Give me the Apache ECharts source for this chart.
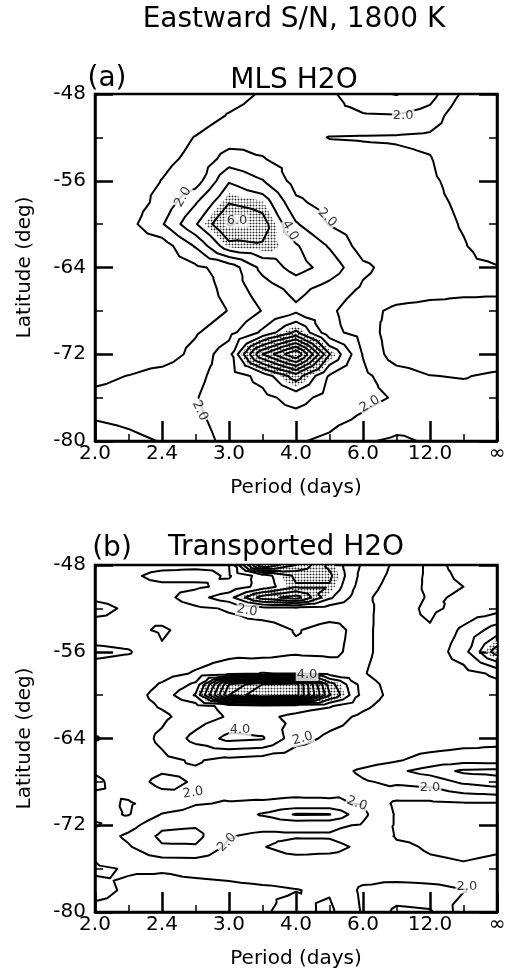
<!DOCTYPE html>
<html>
<head>
<meta charset="utf-8">
<script src="https://cdn.jsdelivr.net/npm/echarts@6/dist/echarts.min.js"></script>
<style>
html, body { margin: 0; padding: 0; background: #fff; }
#chart { width: 511px; height: 972px; }
</style>
</head>
<body>
<div id="chart"></div>
<script>
// x positions are steps of 1/24 cycles/day, from 0.5 cpd (2 days) down to 0 (infinite period)
var periodLabels = ['2.0', '2.4', '3.0', '4.0', '6.0', '12.0', '\u221e'];
var levels = [1, 2, 3, 4, 5, 6, 7, 8, 9, 10, 11, 12, 13, 14, 15, 16, 17, 18, 19, 20];
var stippleLevel = 4.5;

// S/N, one row per latitude, 13 frequency columns
var latMLS = [-48, -50, -52, -54, -56, -58, -60, -62, -64, -66, -68, -70, -72, -74, -76, -78, -80];
var snMLS = [
    [0.3, 0.4, 0.5, 0.6, 0.7, 1.08, 1.4, 1.8, 2.7, 3.05, 2.4, 0.8, 0.5],
    [0.3, 0.4, 0.5, 0.6, 1.05, 1.3, 1.5, 1.7, 1.9, 1.95, 1.6, 0.2, 0.3],
    [0.3, 0.4, 0.6, 1.03, 1.5, 1.7, 1.35, 0.97, 0.93, 0.9, 0.8, 0.3, 0.3],
    [0.3, 0.5, 0.8, 1.2, 2.45, 2.05, 1.6, 1.4, 1.3, 1.2, 1.05, 0.3, 0.3],
    [0.4, 0.6, 1.02, 1.5, 3.9, 3.05, 1.6, 1.4, 1.3, 1.25, 1.15, 0.65, 0.4],
    [0.4, 0.47, 1.3, 2.9, 4.95, 4.6, 2.2, 1.6, 1.4, 1.3, 1.2, 0.85, 0.5],
    [0.5, 0.67, 1.9, 3.9, 6.1, 5.4, 3.1, 1.95, 1.6, 1.4, 1.3, 0.94, 0.6],
    [0.4, 0.4, 0.46, 2.1, 4.7, 4.9, 4.1, 2.9, 1.56, 1.4, 1.3, 1.05, 0.6],
    [0.4, 0.45, 0.5, 0.8, 1.39, 3.3, 4.4, 3.6, 2.2, 1.6, 1.35, 1.15, 1.05],
    [0.4, 0.4, 0.35, 0.29, 1.4, 2.5, 3.3, 2.6, 1.85, 1.5, 1.3, 1.15, 1.1],
    [0.4, 0.4, 0.35, 0.3, 1.05, 2.05, 2.8, 2.2, 1.3, 0.8, 0.7, 0.75, 0.8],
    [0.4, 0.4, 0.45, 0.9, 1.65, 3.2, 5.2, 2.3, 1.6, 0.4, 0.3, 0.35, 0.4],
    [0.4, 0.4, 0.45, 1.3, 2.6, 8.0, 11.0, 5.05, 1.95, 0.45, 0.3, 0.3, 0.4],
    [0.8, 1.02, 1.4, 1.8, 2.4, 3.35, 5.5, 2.9, 2.2, 1.5, 1.02, 0.95, 1.15],
    [1.2, 1.3, 1.5, 1.95, 2.5, 2.7, 3.4, 2.6, 2.3, 1.9, 1.4, 1.3, 1.3],
    [1.02, 1.2, 1.5, 1.85, 2.3, 2.5, 2.6, 2.3, 1.85, 1.4, 1.3, 1.3, 1.3],
    [0.5, 0.75, 1.05, 1.7, 2.2, 2.3, 2.1, 1.8, 1.1, 0.85, 1.1, 1.2, 1.2]
];

// S/N; extra rows where the features are narrow
var latTransported = [-48, -49, -50, -51, -52, -54, -56, -58, -59, -60, -61, -62, -64, -66, -67, -68, -70, -71, -72, -73, -74, -76, -78, -80];
var snTransported = [
    [1.5, 1.6, 1.7, 1.8, 2.0, 9.0, 7.0, 4.8, 2.8, 1.8, 0.8, 1.2, 1.4],
    [1.6, 1.8, 2.3, 2.3, 1.9, 3.5, 5.2, 5.2, 2.6, 1.7, 0.8, 1.1, 1.3],
    [1.7, 1.7, 1.8, 1.8, 2.3, 3.4, 4.9, 4.9, 2.4, 1.6, 0.8, 1.0, 1.3],
    [1.1, 1.2, 1.6, 2.6, 3.6, 6.5, 7.5, 4.2, 2.2, 1.5, 0.9, 1.1, 1.4],
    [0.8, 1.1, 1.4, 1.8, 2.1, 2.6, 2.7, 2.5, 2.3, 1.4, 0.8, 1.3, 1.6],
    [1.3, 1.2, 0.9, 1.3, 1.6, 1.5, 2.06, 1.7, 2.3, 1.3, 1.1, 2.2, 3.5],
    [2.3, 2.1, 1.1, 1.5, 1.7, 1.6, 1.85, 1.8, 2.3, 1.3, 1.3, 2.6, 5.5],
    [1.4, 1.2, 1.6, 2.1, 2.6, 3.05, 2.9, 2.6, 2.1, 1.2, 1.4, 1.6, 2.2],
    [1.2, 1.3, 2.1, 3.2, 10, 12, 12.5, 5.5, 2.5, 1.5, 1.4, 1.5, 1.8],
    [1.1, 1.5, 2.4, 4.1, 11, 13, 12.5, 6.1, 2.6, 1.6, 1.4, 1.5, 1.5],
    [1.2, 1.5, 2.1, 2.6, 3.3, 3.6, 3.4, 3.1, 2.2, 1.5, 1.4, 1.5, 1.5],
    [1.2, 1.5, 1.8, 2.5, 3.1, 3.2, 2.8, 2.4, 1.8, 1.3, 1.5, 1.6, 1.5],
    [2.1, 1.4, 2.2, 3.3, 4.3, 4.1, 2.4, 1.8, 1.6, 1.3, 1.3, 1.5, 1.7],
    [1.2, 1.4, 1.8, 2.1, 1.7, 1.5, 1.3, 1.2, 1.5, 1.9, 2.4, 2.6, 2.5],
    [1.1, 1.5, 1.9, 1.9, 1.7, 1.5, 1.4, 1.5, 2.2, 2.8, 3.4, 4.2, 4.3],
    [0.8, 1.5, 2.3, 1.9, 1.6, 1.5, 1.5, 1.4, 1.9, 2.2, 2.4, 3.2, 3.6],
    [1.3, 0.9, 1.4, 1.95, 2.05, 2.1, 2.2, 2.2, 1.9, 0.8, 0.8, 0.9, 0.9],
    [1.2, 0.95, 2.05, 2.3, 2.4, 3.1, 4.1, 4.05, 2.2, 0.9, 0.9, 0.9, 0.9],
    [0.9, 1.6, 2.8, 2.9, 2.4, 2.3, 2.2, 2.2, 1.9, 0.9, 0.9, 0.85, 0.9],
    [1.4, 2.2, 3.2, 3.3, 2.05, 1.8, 1.9, 1.9, 1.5, 0.95, 0.9, 0.85, 0.9],
    [1.2, 1.9, 2.9, 2.9, 1.8, 1.95, 2.4, 2.3, 1.8, 1.1, 0.95, 0.9, 0.95],
    [0.9, 1.05, 1.05, 1.15, 1.2, 1.3, 1.3, 1.3, 1.4, 1.2, 1.1, 1.05, 1.1],
    [1.2, 0.9, 0.8, 0.8, 0.85, 0.9, 0.98, 1.1, 2.2, 2.5, 2.4, 2.05, 1.5],
    [0.8, 0.8, 0.8, 0.9, 0.8, 0.9, 1.3, 0.8, 2.1, 3.2, 3.1, 1.5, 1.8]
];

// contour labels: [x step, latitude, text, rotation]
var labelsMLS = [
    [9.2, -50.0, '2.0', 0],
    [2.63, -57.5, '2.0', 60],
    [4.24, -59.7, '6.0', 0],
    [5.82, -60.6, '4.0', -60],
    [6.93, -59.4, '2.0', -45],
    [3.13, -77.2, '2.0', -65],
    [8.2, -76.6, '2.0', 30]
];
var labelsTransported = [
    [4.54, -52.2, '2.0', -10],
    [6.33, -58.1, '4.0', 0],
    [4.33, -63.2, '4.0', 0],
    [6.2, -64.0, '2.0', 15],
    [10.0, -68.5, '2.0', 0],
    [2.93, -69.0, '2.0', 10],
    [7.82, -70.0, '2.0', -20],
    [3.94, -73.6, '2.0', 45],
    [11.1, -77.7, '2.0', 0]
];

var fontFamily = 'DejaVu Sans';

function triangles(z, lats) {
    function node(r, c) {
        return { id: 'n' + r + '_' + c, x: c, y: lats[r], v: z[r][c] };
    }
    var tris = [];
    for (var r = 0; r < z.length - 1; r++) {
        for (var c = 0; c < z[0].length - 1; c++) {
            var a = node(r, c), b = node(r, c + 1), d = node(r + 1, c + 1), e = node(r + 1, c);
            var m = {
                id: 'm' + r + '_' + c,
                x: c + 0.5,
                y: (lats[r] + lats[r + 1]) / 2,
                v: (a.v + b.v + d.v + e.v) / 4
            };
            tris.push([a, b, m], [b, d, m], [d, e, m], [e, a, m]);
        }
    }
    return tris;
}

function contourLines(tris, level) {
    var pts = {}, segs = [];
    function cross(p, q) {
        if (p.id > q.id) { var t = p; p = q; q = t; }
        var key = p.id + '|' + q.id;
        if (!pts[key]) {
            var f = (level - p.v) / (q.v - p.v);
            pts[key] = [p.x + f * (q.x - p.x), p.y + f * (q.y - p.y)];
        }
        return key;
    }
    tris.forEach(function (tri) {
        var ks = [];
        for (var i = 0; i < 3; i++) {
            var p = tri[i], q = tri[(i + 1) % 3];
            if ((p.v >= level) !== (q.v >= level)) ks.push(cross(p, q));
        }
        if (ks.length === 2) segs.push(ks);
    });
    // chain the pieces into polylines
    var adj = {}, used = [], lines = [];
    segs.forEach(function (s, i) {
        s.forEach(function (k) { (adj[k] = adj[k] || []).push(i); });
    });
    function extend(chain) {
        while (true) {
            var last = chain[chain.length - 1];
            var next = (adj[last] || []).filter(function (j) { return !used[j]; })[0];
            if (next === undefined) break;
            used[next] = true;
            var s = segs[next];
            chain.push(s[0] === last ? s[1] : s[0]);
        }
    }
    for (var i = 0; i < segs.length; i++) {
        if (used[i]) continue;
        used[i] = true;
        var chain = [segs[i][0], segs[i][1]];
        extend(chain);
        chain.reverse();
        extend(chain);
        lines.push(chain.map(function (k) { return pts[k]; }));
    }
    return lines;
}

function clipTriangle(tri, t) {
    var out = [];
    for (var i = 0; i < 3; i++) {
        var p = tri[i], q = tri[(i + 1) % 3];
        var pin = p.v >= t, qin = q.v >= t;
        if (pin) out.push([p.x, p.y]);
        if (pin !== qin) {
            var f = (t - p.v) / (q.v - p.v);
            out.push([p.x + f * (q.x - p.x), p.y + f * (q.y - p.y)]);
        }
    }
    return out.length >= 3 ? out : null;
}

function makeStipple() {
    var cv = document.createElement('canvas');
    cv.width = 3; cv.height = 3;
    var ctx = cv.getContext('2d');
    ctx.fillStyle = '#fff'; ctx.fillRect(0, 0, 3, 3);
    ctx.fillStyle = '#a8a8a8';
    ctx.fillRect(1, 0, 1, 1); ctx.fillRect(0, 1, 1, 1); ctx.fillRect(2, 1, 1, 1); ctx.fillRect(1, 2, 1, 1);
    ctx.fillStyle = '#333';
    ctx.fillRect(1, 1, 1, 1);
    return { image: cv, repeat: 'repeat' };
}
var stipple = makeStipple();

function panelSeries(k, z, lats, labels) {
    var tris = triangles(z, lats);
    var polys = [];
    tris.forEach(function (tri) {
        var p = clipTriangle(tri, stippleLevel);
        if (p) polys.push(p);
    });
    var lines = [];
    levels.forEach(function (lv) {
        contourLines(tris, lv).forEach(function (l) { lines.push({ coords: l }); });
    });
    return [
        {
            type: 'custom',
            coordinateSystem: 'cartesian2d',
            xAxisIndex: k, yAxisIndex: k * 2,
            silent: true, z: 1,
            data: polys.map(function (p) { return p[0]; }),
            renderItem: function (params, api) {
                var poly = polys[params.dataIndex];
                return {
                    type: 'polygon',
                    shape: { points: poly.map(function (p) { return api.coord(p); }) },
                    style: { fill: stipple, stroke: null }
                };
            }
        },
        {
            type: 'lines',
            coordinateSystem: 'cartesian2d',
            xAxisIndex: k, yAxisIndex: k * 2,
            polyline: true, silent: true, z: 3,
            lineStyle: { color: '#000', width: 2, opacity: 1, join: 'round', cap: 'round' },
            data: lines
        },
        {
            type: 'scatter',
            xAxisIndex: k, yAxisIndex: k * 2,
            silent: true, z: 5,
            symbolSize: 1,
            itemStyle: { color: 'rgba(0,0,0,0)' },
            data: labels.map(function (l) {
                return {
                    value: [l[0], l[1]],
                    label: {
                        show: true, position: 'inside', formatter: l[2], rotate: l[3],
                        fontSize: 13, fontFamily: fontFamily, color: '#000',
                        backgroundColor: '#fff', padding: [0, 1]
                    }
                };
            })
        }
    ];
}

function xAxis(k) {
    return {
        type: 'value', gridIndex: k, min: 0, max: 12, interval: 2,
        axisLine: { show: true, lineStyle: { color: '#000', width: 2.5 } },
        axisTick: { show: true, inside: true, length: 20, lineStyle: { color: '#000', width: 2.5 } },
        minorTick: { show: true, splitNumber: 2, length: 7, lineStyle: { color: '#000', width: 1.5 } },
        splitLine: { show: false },
        axisLabel: {
            margin: 3, fontSize: 20, fontFamily: fontFamily, color: '#000',
            formatter: function (v) { return periodLabels[Math.round(v / 2)]; }
        },
        name: 'Period (days)', nameLocation: 'middle', nameGap: 37,
        nameTextStyle: { fontSize: 20, fontFamily: fontFamily, color: '#000' }
    };
}

function yAxis(k, side) {
    var left = side === 'left';
    return {
        type: 'value', gridIndex: k, position: side, min: -80, max: -48, interval: 8,
        axisLine: { show: true, onZero: false, lineStyle: { color: '#000', width: 2.5 } },
        axisTick: { show: true, inside: true, length: 18, lineStyle: { color: '#000', width: 2.5 } },
        minorTick: { show: true, splitNumber: 2, length: 8, lineStyle: { color: '#000', width: 1.5 } },
        splitLine: { show: false },
        axisLabel: { show: left, margin: 9, fontSize: 20, fontFamily: fontFamily, color: '#000' },
        name: left ? 'Latitude (deg)' : '', nameLocation: 'middle', nameGap: 60,
        nameTextStyle: { fontSize: 20, fontFamily: fontFamily, color: '#000' }
    };
}

function titleText(x, y, text) {
    return {
        type: 'text', x: x, y: y, silent: true,
        style: { text: text, fontSize: 28, fontFamily: fontFamily, fill: '#000', align: 'center', verticalAlign: 'middle' }
    };
}

var chart = echarts.init(document.getElementById('chart'));
chart.setOption({
    backgroundColor: '#fff',
    animation: false,
    grid: [
        { left: 95, top: 94, width: 402, height: 347, show: true, borderColor: '#000', borderWidth: 2.5, containLabel: false, outerBoundsMode: 'none' },
        { left: 95, top: 565, width: 402, height: 347, show: true, borderColor: '#000', borderWidth: 2.5, containLabel: false, outerBoundsMode: 'none' }
    ],
    xAxis: [xAxis(0), xAxis(1)],
    yAxis: [yAxis(0, 'left'), yAxis(0, 'right'), yAxis(1, 'left'), yAxis(1, 'right')],
    graphic: [
        titleText(294, 20, 'Eastward S/N, 1800 K'),
        titleText(107, 79, '(a)'),
        titleText(294, 81, 'MLS H2O'),
        titleText(112, 549, '(b)'),
        titleText(286, 548, 'Transported H2O')
    ],
    series: panelSeries(0, snMLS, latMLS, labelsMLS).concat(panelSeries(1, snTransported, latTransported, labelsTransported))
});
</script>
</body>
</html>
